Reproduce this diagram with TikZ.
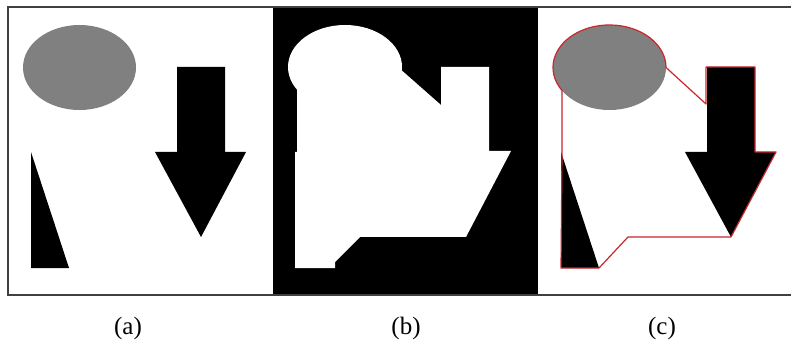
\documentclass[tikz,border=0pt]{standalone}
\usepackage{fontspec}
\setmainfont{Liberation Serif}
\definecolor{framec}{HTML}{404040}
\definecolor{grayfill}{HTML}{808080}
\definecolor{hullred}{HTML}{C8282D}
\tikzset{
  panelframe/.style={draw=framec, line width=1.3pt},
  blackshape/.style={fill=black},
  grayshape/.style={fill=grayfill},
  hull/.style={draw=hullred, line width=1.2pt, line join=round},
  caption/.style={font=\fontsize{25}{29}\selectfont, inner sep=0pt}
}
\begin{document}
\begin{tikzpicture}[x=1pt,y=-1pt]
\useasboundingbox (0,0) rectangle (791,352);
\fill[white] (0,0) rectangle (791,352);
% ---------- panel (a) ----------
\fill[grayshape] (79.5,67.5) ellipse [x radius=56.5, y radius=42.5];
\fill[blackshape] (177,67) -- (225,67) -- (225,152) -- (246,152) -- (201,237) -- (155,152) -- (177,152) -- cycle;
\fill[blackshape] (31,152) -- (31,268) -- (69,268) -- cycle;
% ---------- panel (b) ----------
\fill[black] (273,7) rectangle (538,295);
\fill[white] (345,67) ellipse [x radius=57, y radius=42];
\fill[white] (297,89) -- (297,152) -- (295,152) -- (295,268) -- (335,268) -- (335,262) -- (360,237)
  -- (466,237) -- (511,151) -- (489,151) -- (489,67) -- (441,67) -- (441,105) -- (399,68) -- cycle;
% ---------- panel (c) ----------
\fill[grayshape] (609.5,67.5) ellipse [x radius=56.5, y radius=42.5];
\fill[blackshape] (707,67) -- (755,67) -- (755,152) -- (776,152) -- (731,237) -- (685,152) -- (707,152) -- cycle;
\fill[blackshape] (561,152) -- (561,268) -- (599,268) -- cycle;
\draw[hull] (562,152) -- (562,90.5) arc [start angle=147.2, end angle=360, x radius=56.5, y radius=42.5]
  -- (706,104) -- (706,67) -- (755,67) -- (755,152) -- (776,152) -- (731,237) -- (628,237)
  -- (599,268) -- (561,268) -- cycle;
% ---------- frames ----------
\draw[panelframe] (791,7) -- (8,7) -- (8,295) -- (791,295);
% ---------- captions ----------
\node[caption] (capa) at (128,328) {(a)};
\node[caption] (capb) at (406,328) {(b)};
\node[caption] (capc) at (662,328) {(c)};
\end{tikzpicture}
\end{document}
